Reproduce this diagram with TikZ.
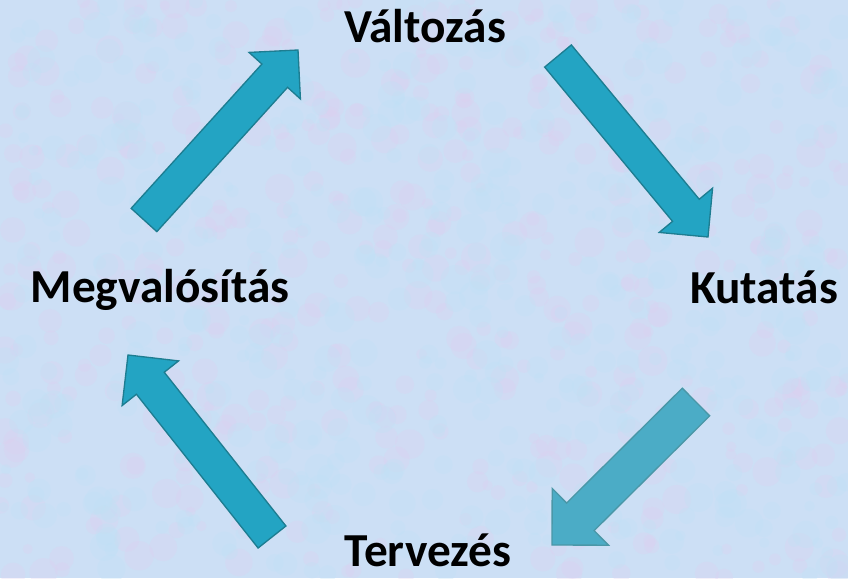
\documentclass[tikz,border=0pt]{standalone}
\usepackage{fontspec}
\setmainfont{Carlito}
\usetikzlibrary{calc}
\definecolor{bgblue}{HTML}{CCDFF5}
\definecolor{bgpink}{HTML}{DDD0F0}
\definecolor{bgcyan}{HTML}{BFE2F6}
\definecolor{arrowteal}{HTML}{23A4C3}
\definecolor{arrowlight}{HTML}{4BACC6}
\definecolor{arrowedge}{HTML}{1D7D91}

\tikzset{
 label/.style={font=\bfseries\fontsize{35.5}{36}\selectfont, text=black, anchor=base, inner sep=0pt},
 blockdark/.style={fill=arrowteal, draw=arrowedge, line width=1pt, line join=miter},
 blocklight/.style={fill=arrowlight, draw=arrowedge!80, line width=1pt, line join=miter}
}

% name, tail, tip, style, half shaft width, half head width
\newcommand{\blockarrow}[6]{%
 \coordinate (#1-base) at ($(#3)!#6!(#2)$);
 \filldraw[#4] ($(#2)!#5!90:(#3)$) -- ($(#1-base)!#5!90:(#3)$) -- ($(#1-base)!#6!90:(#3)$) -- (#3)
  -- ($(#1-base)!#6!-90:(#3)$) -- ($(#1-base)!#5!-90:(#3)$) -- ($(#2)!#5!-90:(#3)$) -- cycle;}

\begin{document}
\begin{tikzpicture}[x=0.75pt, y=-0.75pt]
 \useasboundingbox (0,0) rectangle (848,578);
 \fill[bgblue] (0,0) rectangle (848,578);
 \begin{scope}
  \clip (0,0) rectangle (848,578);
  \pgfmathsetseed{11}
  \foreach \i in {1,...,500} {
   \pgfmathsetmacro{\bx}{rnd*848}
   \pgfmathsetmacro{\by}{rnd*578}
   \pgfmathsetmacro{\br}{5+rnd*10}
   \fill[bgpink, opacity=0.3] (\bx,\by) circle (\br);
  }
  \foreach \i in {1,...,500} {
   \pgfmathsetmacro{\bx}{rnd*848}
   \pgfmathsetmacro{\by}{rnd*578}
   \pgfmathsetmacro{\br}{5+rnd*10}
   \fill[bgcyan, opacity=0.3] (\bx,\by) circle (\br);
  }
 \end{scope}

 \node[label] (valtozas) at (425,42) {Változás};
 \node[label] (kutatas) at (764,303) {Kutatás};
 \node[label] (tervezes) at (428,566) {Tervezés};
 \node[label] (megvalositas) at (160,302) {Megvalósítás};

 \coordinate (mv-tail) at (144,220);
 \coordinate (va-tip) at (298,50);
 \coordinate (va-tail) at (558,56);
 \coordinate (ku-tip) at (708,237);
 \coordinate (ku-tail) at (696,402);
 \coordinate (te-tip) at (552,545);
 \coordinate (te-tail) at (272,537);
 \coordinate (mv-tip) at (128,355);

 \blockarrow{a1}{mv-tail}{va-tip}{blockdark}{13pt}{26pt}
 \blockarrow{a2}{va-tail}{ku-tip}{blockdark}{13pt}{26pt}
 \blockarrow{a3}{ku-tail}{te-tip}{blocklight}{14.6pt}{30pt}
 \blockarrow{a4}{te-tail}{mv-tip}{blockdark}{13.3pt}{27pt}
\end{tikzpicture}
\end{document}
